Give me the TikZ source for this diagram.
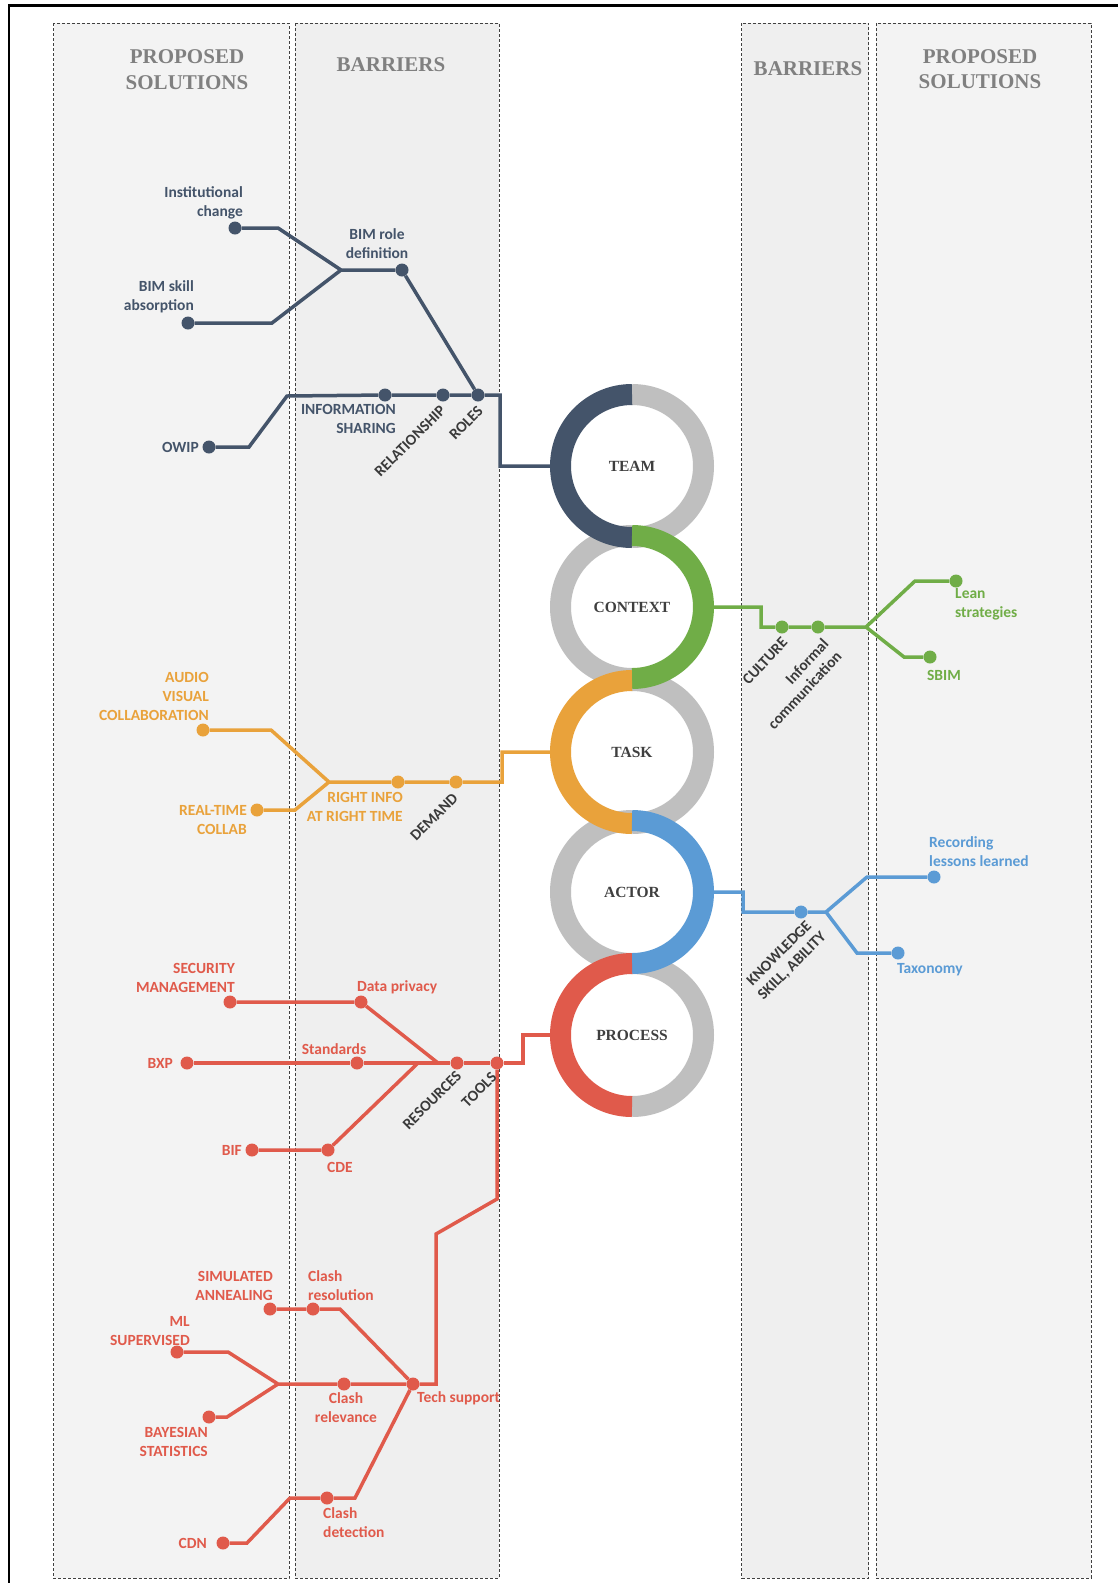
\documentclass[tikz,border=0pt]{standalone}
\usepackage{fontspec}
\setmainfont{Liberation Serif}
\newfontfamily\labfont{Carlito}
\usetikzlibrary{calc}
\definecolor{navyc}{HTML}{44546A}
\definecolor{greenc}{HTML}{70AD47}
\definecolor{orangec}{HTML}{E9A23B}
\definecolor{bluec}{HTML}{5B9BD5}
\definecolor{redc}{HTML}{E05A4B}
\definecolor{ringgray}{HTML}{BFBFBF}
\definecolor{darktxt}{HTML}{3A3A3A}
\definecolor{ringtxt}{HTML}{3F3F3F}
\definecolor{titlegray}{HTML}{808080}
\definecolor{panelA}{HTML}{F3F3F3}
\definecolor{panelB}{HTML}{EFEFEF}
\newcommand\halfL[2]{\draw[halfring=#2] ([yshift=71.5pt]#1.center) arc[start angle=90,end angle=270,radius=71.5pt];}
\newcommand\halfR[2]{\draw[halfring=#2] ([yshift=-71.5pt]#1.center) arc[start angle=-90,end angle=90,radius=71.5pt];}
\tikzset{
  dotn/.style={circle, fill=#1, minimum size=13pt, inner sep=0pt},
  lab/.style={font=\labfont\bfseries\fontsize{15.5pt}{19pt}\selectfont, text=#1, inner sep=0pt},
  rlab/.style={font=\labfont\bfseries\fontsize{15.5pt}{18pt}\selectfont, text=darktxt, inner sep=0pt, rotate=#1},
  branch/.style={draw=#1, line width=3.5pt},
  ringnode/.style={circle, minimum size=164pt, inner sep=0pt, font=\bfseries\fontsize{15.5pt}{18pt}\selectfont, text=ringtxt},
  halfring/.style={draw=#1, line width=21pt},
  panel/.style={fill=#1, draw=black!75, dash pattern=on 3pt off 2pt, line width=0.9pt},
  coltitle/.style={font=\bfseries\fontsize{21pt}{25.5pt}\selectfont, text=titlegray, align=center, inner sep=0pt},
}
\begin{document}
\begin{tikzpicture}[x=1pt,y=-1pt]
\useasboundingbox (0,0) rectangle (1117,1583);
\fill[white] (0,0) rectangle (1117,1583);
% frame
\draw[line width=2.5pt, black] (9,1590) -- (9,5.5) -- (1125,5.5);
% panels
\draw[panel=panelA] (53.5,23) rectangle (289,1578);
\draw[panel=panelB] (295,23) rectangle (499,1578);
\draw[panel=panelB] (741.5,23) rectangle (868.5,1578);
\draw[panel=panelA] (876,23) rectangle (1091,1578);
% titles
\node[coltitle] (tps1) at (187,69.5) {PROPOSED\\SOLUTIONS};
\node[coltitle] (tbar1) at (391,65) {BARRIERS};
\node[coltitle] (tbar2) at (808,69) {BARRIERS};
\node[coltitle] (tps2) at (980,69) {PROPOSED\\SOLUTIONS};

% rings
\node[ringnode] (team) at (632,466) {TEAM};
\node[ringnode] (context) at (632,607) {CONTEXT};
\node[ringnode] (task) at (632,752) {TASK};
\node[ringnode] (actor) at (632,892) {ACTOR};
\node[ringnode] (process) at (632,1035) {PROCESS};
\halfR{team}{ringgray}
\halfL{context}{ringgray}
\halfR{task}{ringgray}
\halfL{actor}{ringgray}
\halfR{process}{ringgray}
\halfL{team}{navyc}
\halfR{context}{greenc}
\halfL{task}{orangec}
\halfR{actor}{bluec}
\halfL{process}{redc}

% ---------------- TEAM ----------------
\node[dotn=navyc] (instc) at (235,228) {};
\node[dotn=navyc] (bimskill) at (188,323) {};
\node[dotn=navyc] (bimrole) at (402,270) {};
\node[dotn=navyc] (owip) at (209,447) {};
\node[dotn=navyc] (infosh) at (385,395) {};
\node[dotn=navyc] (relat) at (443,395) {};
\node[dotn=navyc] (roles) at (478,395) {};
\coordinate (t1) at (278,228);
\coordinate (tj) at (341,270);
\coordinate (t2) at (272,323);
\coordinate (t3) at (249,447);
\coordinate (t4) at (287,396);
\coordinate (t5) at (500,395);
\draw[branch=navyc] (instc) -- (t1) -- (tj) -- (bimrole) -- (roles);
\draw[branch=navyc] (bimskill) -- (t2) -- (tj);
\draw[branch=navyc] (owip) -- (t3) -- (t4) -- (infosh) -- (relat) -- (roles) -- (t5) |- (team.west);
\node[lab=navyc, align=right, anchor=east] (linstc) at (243,203) {Institutional\\change};
\node[lab=navyc, align=center] (lbimrole) at (377,244) {BIM role\\definition};
\node[lab=navyc, align=right, anchor=east] (lbimskill) at (194,297) {BIM skill\\absorption};
\node[lab=navyc, anchor=east] (lowip) at (199,447) {OWIP};
\node[lab=navyc, align=right, anchor=east] (linfosh) at (396,419) {INFORMATION\\SHARING};
\node[rlab=45] (lrelat) at (410,441) {RELATIONSHIP};
\node[rlab=45] (lroles) at (466,423) {ROLES};

% ---------------- CONTEXT ----------------
\node[dotn=greenc] (culture) at (782,627) {};
\node[dotn=greenc] (informal) at (818,627) {};
\node[dotn=greenc] (lean) at (956,581) {};
\node[dotn=greenc] (sbim) at (930,657) {};
\coordinate (c2) at (761,627);
\coordinate (cj) at (866,627);
\coordinate (c3) at (915,581);
\coordinate (c4) at (904,657);
\draw[branch=greenc] (context.east) -| (c2) -- (culture) -- (informal) -- (cj) -- (c3) -- (lean);
\draw[branch=greenc] (cj) -- (c4) -- (sbim);
\node[lab=greenc, align=left, anchor=west] (llean) at (955,604) {Lean\\strategies};
\node[lab=greenc] (lsbim) at (944,675) {SBIM};
\node[rlab=47] (lculture) at (765,661) {CULTURE};
\node[rlab=47, align=right] (linformal) at (798,684) {Informal\\communication};

% ---------------- TASK ----------------
\node[dotn=orangec] (avc) at (203,730) {};
\node[dotn=orangec] (rtc) at (257,810) {};
\node[dotn=orangec] (rinfo) at (398,782) {};
\node[dotn=orangec] (demand) at (456,782) {};
\coordinate (k1) at (271,730);
\coordinate (kj) at (329,782);
\coordinate (k2) at (295,810);
\coordinate (k3) at (502,782);
\draw[branch=orangec] (avc) -- (k1) -- (kj) -- (rinfo) -- (demand) -- (k3) |- (task.west);
\draw[branch=orangec] (rtc) -- (k2) -- (kj);
\node[lab=orangec, align=right, anchor=east] (lavc) at (209,696) {AUDIO\\VISUAL\\COLLABORATION};
\node[lab=orangec, align=right, anchor=east] (lrtc) at (247,820) {REAL-TIME\\COLLAB};
\node[lab=orangec, align=right, anchor=east] (lrinfo) at (403,807) {RIGHT INFO\\AT RIGHT TIME};
\node[rlab=45] (ldemand) at (434,817) {DEMAND};

% ---------------- ACTOR ----------------
\node[dotn=bluec] (know) at (801,912) {};
\node[dotn=bluec] (record) at (934,877) {};
\node[dotn=bluec] (taxo) at (898,953) {};
\coordinate (a2) at (743,912);
\coordinate (aj) at (826,912);
\coordinate (a3) at (867,877);
\coordinate (a4) at (857,953);
\draw[branch=bluec] (actor.east) -| (a2) -- (know) -- (aj) -- (a3) -- (record);
\draw[branch=bluec] (aj) -- (a4) -- (taxo);
\node[lab=bluec, align=left, anchor=west] (lrecord) at (929,852) {Recording\\lessons learned};
\node[lab=bluec, anchor=west] (ltaxo) at (897,970) {Taxonomy};
\node[rlab=45, align=center] (lknow) at (786,960) {KNOWLEDGE\\SKILL, ABILITY};

% ---------------- PROCESS ----------------
\node[dotn=redc] (secm) at (230,1002) {};
\node[dotn=redc] (dpriv) at (361,1002) {};
\node[dotn=redc] (bxp) at (187,1063) {};
\node[dotn=redc] (stand) at (357,1063) {};
\node[dotn=redc] (resour) at (457,1063) {};
\node[dotn=redc] (tools) at (497,1063) {};
\node[dotn=redc] (bif) at (252,1150) {};
\node[dotn=redc] (cde) at (328,1150) {};
\coordinate (p1) at (438,1063);
\coordinate (p2) at (523,1063);
\coordinate (p3) at (418,1063);
\draw[branch=redc] (secm) -- (dpriv) -- (p1);
\draw[branch=redc] (bxp) -- (stand) -- (resour) -- (tools) -- (p2) |- (process.west);
\draw[branch=redc] (bif) -- (cde) -- (p3);

\node[dotn=redc] (tech) at (413,1384) {};
\node[dotn=redc] (simann) at (270,1309) {};
\node[dotn=redc] (clashres) at (313,1309) {};
\node[dotn=redc] (mlsup) at (177,1352) {};
\node[dotn=redc] (bayes) at (209,1417) {};
\node[dotn=redc] (clashrel) at (344,1384) {};
\node[dotn=redc] (cdn) at (223,1543) {};
\node[dotn=redc] (clashdet) at (327,1498) {};
\coordinate (p4) at (497,1199);
\coordinate (p5) at (436,1234);
\coordinate (p6) at (436,1384);
\coordinate (p7) at (340,1309);
\coordinate (p8) at (228,1352);
\coordinate (pj) at (278,1384);
\coordinate (p9) at (227,1417);
\coordinate (p10) at (247,1543);
\coordinate (p11) at (290,1498);
\coordinate (p12) at (355,1498);
\draw[branch=redc] (tools) -- (p4) -- (p5) -- (p6) -- (tech);
\draw[branch=redc] (simann) -- (clashres) -- (p7) -- (tech);
\draw[branch=redc] (mlsup) -- (p8) -- (pj) -- (clashrel) -- (tech);
\draw[branch=redc] (bayes) -- (p9) -- (pj);
\draw[branch=redc] (cdn) -- (p10) -- (p11) -- (clashdet) -- (p12) -- (tech);

\node[lab=redc, align=right, anchor=east] (lsecm) at (235,978) {SECURITY\\MANAGEMENT};
\node[lab=redc, anchor=west] (ldpriv) at (357,987) {Data privacy};
\node[lab=redc] (lstand) at (334,1049) {Standards};
\node[lab=redc, anchor=east] (lbxp) at (173,1063) {BXP};
\node[lab=redc, anchor=east] (lbif) at (242,1150) {BIF};
\node[lab=redc] (lcde) at (340,1167) {CDE};
\node[rlab=45] (lresour) at (432,1100) {RESOURCES};
\node[rlab=45] (ltools) at (479,1090) {TOOLS};
\node[lab=redc, align=right, anchor=east] (lsimann) at (273,1286) {SIMULATED\\ANNEALING};
\node[lab=redc, align=left, anchor=west] (lclashres) at (308,1286) {Clash\\resolution};
\node[lab=redc, align=right, anchor=east] (lmlsup) at (190,1331) {ML\\SUPERVISED};
\node[lab=redc, align=right, anchor=east] (lbayes) at (208,1442) {BAYESIAN\\STATISTICS};
\node[lab=redc, align=center] (lclashrel) at (346,1408) {Clash\\relevance};
\node[lab=redc, anchor=west] (ltech) at (417,1398) {Tech support};
\node[lab=redc, align=left, anchor=west] (lclashdet) at (323,1523) {Clash\\detection};
\node[lab=redc, anchor=east] (lcdn) at (207,1543) {CDN};
\end{tikzpicture}
\end{document}
